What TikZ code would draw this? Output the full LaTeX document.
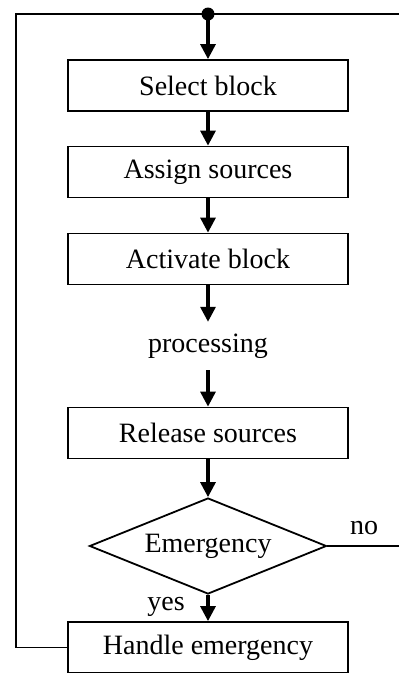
\documentclass[tikz,border=0pt]{standalone}
\usepackage{fontspec}
\setmainfont{Liberation Serif}
\usetikzlibrary{arrows.meta,shapes.geometric}
\begin{document}
\begin{tikzpicture}[x=1pt,y=-1pt,
  box/.style={draw,line width=1.8pt,minimum width=280pt,minimum height=51pt,inner sep=0pt,font=\fontsize{28}{32}\selectfont},
  dec/.style={draw,diamond,line width=1.8pt,minimum width=237pt,minimum height=96pt,aspect=2.47,inner sep=0pt,font=\fontsize{28}{32}\selectfont},
  lbl/.style={inner sep=0pt,font=\fontsize{28}{32}\selectfont},
  flow/.style={line width=3.2pt,-{Triangle[length=15pt,width=15pt]}},
  loop/.style={line width=1.8pt,line join=miter}]
\useasboundingbox (0,0) rectangle (399,673);
\node[box] (sel) at (208,85.5) {Select block};
\node[box] (asg) at (208,172) {Assign sources};
\node[box] (act) at (208,259) {Activate block};
\node[lbl,minimum height=48pt] (proc) at (208,346) {processing};
\node[box] (rel) at (208,433) {Release sources};
\node[dec] (emg) at (208,546) {Emergency};
\node[box] (hnd) at (208,647.5) {Handle emergency};
\node[lbl] (no) at (364,528) {no};
\node[lbl] (yes) at (166,607) {yes};
\coordinate (tl) at (16,14);
\coordinate (tr) at (399,14);
\coordinate (bl) at (16,647.5);
\coordinate (nr) at (399,546);
\node[circle,fill=black,inner sep=0pt,minimum size=13pt] (dot) at (208,14) {};
\draw[loop] (hnd.west) -- (bl) -- (tl) -- (tr);
\draw[loop] (emg.east) -- (nr);
\draw[flow] (dot.center) -- (sel.north);
\draw[flow] (sel.south) -- (asg.north);
\draw[flow] (asg.south) -- (act.north);
\draw[flow] (act.south) -- (proc.north);
\draw[flow] (proc.south) -- (rel.north);
\draw[flow] (rel.south) -- (emg.north);
\draw[flow] (emg.south) -- (hnd.north);
\end{tikzpicture}
\end{document}
